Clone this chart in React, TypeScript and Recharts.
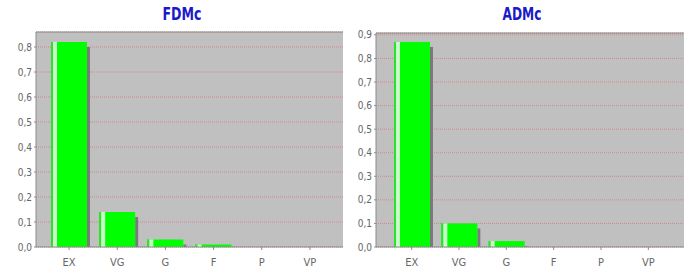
import { BarChart, Bar, XAxis, YAxis, CartesianGrid, ReferenceLine } from 'recharts';

const categories = ['EX', 'VG', 'G', 'F', 'P', 'VP'];
const fdmcValues = [0.82, 0.14, 0.03, 0.01, 0, 0];
const admcValues = [0.87, 0.1, 0.025, 0, 0, 0];
const fdmcTicks = [0, 0.1, 0.2, 0.3, 0.4, 0.5, 0.6, 0.7, 0.8];
const admcTicks = [0, 0.1, 0.2, 0.3, 0.4, 0.5, 0.6, 0.7, 0.8, 0.9];

const AXIS_GRAY = '#8c8c8c';
const LABEL_FONT = "'DejaVu Sans Condensed', 'Liberation Sans', sans-serif";

const fmt = (v: number) => v.toFixed(1).replace('.', ',');

// green bar with a pale stripe on the left and a drop shadow on the right
const Bar3D = (props: any) => {
  const { x, y, width, height } = props;
  if (!height || height <= 0) return null;
  return (
    <g>
      {height > 5 && <rect x={x + width} y={y + 5} width={3} height={height - 5} fill="#7a7a7a" />}
      <rect x={x} y={y} width={width} height={height} fill="#00ff00" />
      <rect x={x} y={y} width={2} height={height} fill="#2ee02e" />
      <rect x={x + 2} y={y} width={4} height={height} fill="#c8ffc8" />
    </g>
  );
};

interface PanelProps {
  title: string;
  values: number[];
  ticks: number[];
  max: number;
  width: number;
  yAxisWidth: number;
  pad: number;
  top: number;
  right: number;
  titleX: number;
}

function Panel({ title, values, ticks, max, width, yAxisWidth, pad, top, right, titleX }: PanelProps) {
  const data = categories.map((c, i) => ({ name: c, value: values[i] }));
  return (
    <div style={{ position: 'relative', width, height: 271 }}>
      <BarChart width={width} height={271} data={data} margin={{ top, right, left: 0, bottom: 0 }}>
        <CartesianGrid vertical={false} fill="#c0c0c0" stroke="#d48888" strokeDasharray="1 1" />
        <ReferenceLine y={max} stroke={AXIS_GRAY} />
        <XAxis
          dataKey="name"
          height={24}
          padding={{ left: pad, right: pad }}
          axisLine={{ stroke: AXIS_GRAY }}
          tickLine={{ stroke: AXIS_GRAY }}
          tickSize={3}
          tickMargin={8}
          tick={{ fontSize: 11, fill: '#666', fontFamily: LABEL_FONT }}
        />
        <YAxis
          width={yAxisWidth}
          domain={[0, max]}
          ticks={ticks}
          tickFormatter={fmt}
          axisLine={{ stroke: AXIS_GRAY }}
          tickLine={{ stroke: AXIS_GRAY }}
          tickSize={2}
          tickMargin={2}
          tick={{ fontSize: 10, fill: '#666', fontFamily: LABEL_FONT }}
        />
        <YAxis
          yAxisId="r"
          orientation="right"
          width={0}
          domain={[0, max]}
          tick={false}
          tickLine={false}
          axisLine={{ stroke: AXIS_GRAY }}
        />
        <Bar dataKey="value" barSize={36} shape={Bar3D} isAnimationActive={false} />
      </BarChart>
      <svg width={width} height={30} style={{ position: 'absolute', left: 0, top: 0 }}>
        <text
          x={titleX}
          y={20}
          textAnchor="middle"
          fontFamily="'DejaVu Sans', sans-serif"
          fontWeight="bold"
          fontSize={17}
          fill="#1a1ac8"
          textLength={39}
          lengthAdjust="spacingAndGlyphs"
        >
          {title}
        </text>
      </svg>
    </div>
  );
}

export default function App() {
  return (
    <div
      style={{
        position: 'absolute',
        left: 0,
        top: 0,
        width: 691,
        height: 271,
        background: '#fff',
        display: 'flex',
      }}
    >
      <Panel
        title="FDMc"
        values={fdmcValues}
        ticks={fdmcTicks}
        max={0.86}
        width={345}
        yAxisWidth={36}
        pad={9}
        top={32}
        right={2}
        titleX={182}
      />
      <Panel
        title="ADMc"
        values={admcValues}
        ticks={admcTicks}
        max={0.908}
        width={346}
        yAxisWidth={31}
        pad={12}
        top={33}
        right={7}
        titleX={177}
      />
    </div>
  );
}
